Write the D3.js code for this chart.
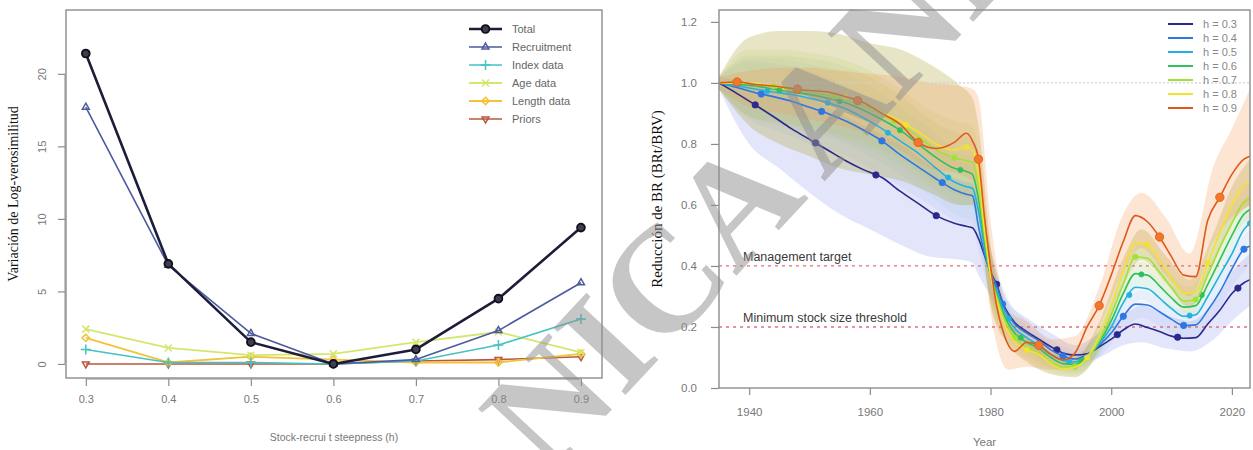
<!DOCTYPE html>
<html>
<head>
<meta charset="utf-8">
<script src="https://cdn.jsdelivr.net/npm/d3@7/dist/d3.min.js"></script>
<style>
  body { margin: 0; background: #fff; }
  svg { display: block; }
</style>
</head>
<body>
<svg id="chart" width="1253" height="450"></svg>
<script>
// ---------- Left panel: likelihood profile over steepness ----------
const steepness   = [0.3, 0.4, 0.5, 0.6, 0.7, 0.8, 0.9];
const totalLL     = [21.4, 6.9, 1.5, 0.0, 1.0, 4.5, 9.4];
const recruitLL   = [17.7, 6.8, 2.1, 0.0, 0.3, 2.3, 5.6];
const indexLL     = [1.0, 0.1, 0.1, 0.0, 0.2, 1.3, 3.1];
const ageLL       = [2.4, 1.1, 0.6, 0.7, 1.5, 2.2, 0.8];
const lengthLL    = [1.8, 0.1, 0.5, 0.3, 0.1, 0.1, 0.7];
const priorsLL    = [0.0, 0.0, 0.0, 0.0, 0.2, 0.3, 0.5];
const componentNames = ["Total", "Recruitment", "Index data", "Age data", "Length data", "Priors"];
const leftYTicks  = [0, 5, 10, 15, 20];
const leftXTicks  = [0.3, 0.4, 0.5, 0.6, 0.7, 0.8, 0.9];

// ---------- Right panel: relative spawning biomass by steepness ----------
const years = [1935, 1938, 1941, 1944, 1947, 1950, 1953, 1956, 1959, 1962, 1965, 1968, 1971, 1974,
               1976, 1977, 1978, 1979, 1980, 1981, 1982, 1984, 1986, 1988, 1990, 1992, 1994, 1996,
               1998, 2000, 2002, 2004, 2006, 2008, 2010, 2012, 2014, 2016, 2018, 2020, 2022, 2023];
const h03 = [1.00, 0.965, 0.928, 0.89, 0.85, 0.815, 0.78, 0.745, 0.715, 0.69, 0.645, 0.605, 0.565, 0.54,
             0.53, 0.525, 0.49, 0.435, 0.38, 0.34, 0.28, 0.215, 0.185, 0.16, 0.135, 0.115, 0.108, 0.112,
             0.135, 0.16, 0.19, 0.21, 0.198, 0.185, 0.17, 0.163, 0.165, 0.21, 0.255, 0.31, 0.345, 0.355];
const h04 = [1.00, 0.985, 0.968, 0.955, 0.94, 0.92, 0.90, 0.875, 0.845, 0.81, 0.765, 0.725, 0.685, 0.65,
             0.635, 0.63, 0.53, 0.44, 0.38, 0.335, 0.275, 0.21, 0.18, 0.155, 0.125, 0.105, 0.095, 0.11,
             0.14, 0.18, 0.235, 0.275, 0.272, 0.25, 0.225, 0.205, 0.207, 0.255, 0.315, 0.39, 0.455, 0.465];
const h05 = [1.00, 0.99, 0.98, 0.97, 0.962, 0.95, 0.935, 0.915, 0.885, 0.85, 0.81, 0.77, 0.72, 0.675,
             0.66, 0.655, 0.58, 0.46, 0.37, 0.32, 0.26, 0.195, 0.165, 0.14, 0.11, 0.09, 0.085, 0.105,
             0.145, 0.20, 0.28, 0.33, 0.325, 0.295, 0.26, 0.235, 0.24, 0.30, 0.37, 0.44, 0.52, 0.54];
const h06 = [1.00, 0.995, 0.99, 0.98, 0.97, 0.962, 0.95, 0.935, 0.91, 0.88, 0.845, 0.80, 0.755, 0.72,
             0.71, 0.70, 0.62, 0.48, 0.37, 0.31, 0.25, 0.18, 0.15, 0.13, 0.10, 0.08, 0.078, 0.10,
             0.15, 0.22, 0.31, 0.375, 0.37, 0.335, 0.295, 0.265, 0.27, 0.34, 0.42, 0.50, 0.57, 0.585];
const h07 = [1.00, 1.00, 0.995, 0.99, 0.978, 0.97, 0.96, 0.945, 0.925, 0.895, 0.865, 0.825, 0.78, 0.755,
             0.745, 0.74, 0.66, 0.50, 0.37, 0.30, 0.24, 0.165, 0.135, 0.115, 0.085, 0.068, 0.07, 0.095,
             0.155, 0.24, 0.34, 0.43, 0.425, 0.38, 0.33, 0.285, 0.29, 0.37, 0.46, 0.54, 0.61, 0.62];
const h08 = [1.00, 1.00, 0.998, 0.99, 0.982, 0.975, 0.968, 0.955, 0.935, 0.905, 0.875, 0.84, 0.80, 0.78,
             0.79, 0.78, 0.70, 0.52, 0.37, 0.29, 0.225, 0.15, 0.125, 0.11, 0.08, 0.062, 0.068, 0.10,
             0.17, 0.27, 0.38, 0.475, 0.47, 0.42, 0.36, 0.31, 0.315, 0.41, 0.51, 0.60, 0.665, 0.675];
const h09 = [1.00, 1.003, 0.995, 0.99, 0.982, 0.975, 0.97, 0.955, 0.935, 0.90, 0.865, 0.805, 0.785, 0.805,
             0.835, 0.81, 0.75, 0.56, 0.40, 0.27, 0.19, 0.12, 0.15, 0.14, 0.11, 0.092, 0.115, 0.20,
             0.27, 0.37, 0.48, 0.565, 0.545, 0.495, 0.43, 0.37, 0.365, 0.55, 0.625, 0.70, 0.75, 0.76];

// Confidence envelopes, read on a coarser grid of years
const bandYears = [1935, 1940, 1945, 1950, 1955, 1960, 1965, 1970, 1975, 1977, 1978, 1980,
                   1983, 1986, 1990, 1994, 1998, 2002, 2005, 2009, 2013, 2017, 2020, 2023];
const h03Lo = [0.98, 0.80, 0.72, 0.64, 0.57, 0.52, 0.47, 0.43, 0.42, 0.41, 0.37, 0.30, 0.20, 0.14, 0.10, 0.08, 0.10, 0.14, 0.15, 0.13, 0.12, 0.16, 0.22, 0.27];
const h03Hi = [1.02, 1.00, 0.98, 0.95, 0.90, 0.85, 0.80, 0.73, 0.68, 0.67, 0.62, 0.45, 0.28, 0.23, 0.18, 0.14, 0.18, 0.24, 0.27, 0.24, 0.22, 0.28, 0.38, 0.44];
const h04Lo = [0.98, 0.88, 0.84, 0.80, 0.77, 0.72, 0.66, 0.60, 0.54, 0.53, 0.45, 0.30, 0.19, 0.14, 0.09, 0.065, 0.10, 0.19, 0.23, 0.19, 0.16, 0.23, 0.33, 0.41];
const h04Hi = [1.02, 1.07, 1.06, 1.04, 1.00, 0.95, 0.87, 0.80, 0.74, 0.73, 0.62, 0.46, 0.29, 0.22, 0.16, 0.125, 0.18, 0.28, 0.32, 0.28, 0.25, 0.33, 0.45, 0.52];
const h05Lo = [0.98, 0.89, 0.86, 0.84, 0.81, 0.76, 0.70, 0.63, 0.56, 0.55, 0.48, 0.29, 0.18, 0.125, 0.075, 0.055, 0.105, 0.24, 0.29, 0.235, 0.195, 0.28, 0.39, 0.48];
const h05Hi = [1.02, 1.08, 1.08, 1.06, 1.04, 0.99, 0.92, 0.85, 0.77, 0.76, 0.68, 0.45, 0.27, 0.205, 0.145, 0.115, 0.185, 0.32, 0.37, 0.315, 0.28, 0.38, 0.49, 0.60];
const h06Lo = [0.98, 0.89, 0.87, 0.85, 0.82, 0.78, 0.73, 0.66, 0.60, 0.59, 0.51, 0.29, 0.165, 0.11, 0.065, 0.048, 0.11, 0.27, 0.33, 0.27, 0.225, 0.33, 0.45, 0.53];
const h06Hi = [1.02, 1.09, 1.09, 1.08, 1.06, 1.02, 0.96, 0.88, 0.83, 0.81, 0.73, 0.45, 0.255, 0.19, 0.135, 0.108, 0.19, 0.35, 0.415, 0.35, 0.31, 0.43, 0.55, 0.64];
const h07Lo = [0.98, 0.89, 0.87, 0.85, 0.83, 0.80, 0.75, 0.68, 0.63, 0.62, 0.54, 0.28, 0.15, 0.095, 0.05, 0.04, 0.115, 0.30, 0.385, 0.31, 0.245, 0.37, 0.49, 0.56];
const h07Hi = [1.02, 1.11, 1.11, 1.10, 1.08, 1.04, 0.98, 0.91, 0.87, 0.86, 0.78, 0.46, 0.25, 0.175, 0.12, 0.10, 0.195, 0.38, 0.475, 0.39, 0.33, 0.47, 0.59, 0.68];
const h08Lo = [0.98, 0.86, 0.80, 0.76, 0.72, 0.70, 0.68, 0.64, 0.60, 0.60, 0.56, 0.27, 0.14, 0.085, 0.045, 0.035, 0.125, 0.335, 0.42, 0.345, 0.265, 0.41, 0.54, 0.60];
const h08Hi = [1.02, 1.15, 1.17, 1.17, 1.16, 1.13, 1.11, 1.06, 0.99, 0.95, 0.86, 0.47, 0.24, 0.165, 0.115, 0.10, 0.215, 0.425, 0.52, 0.435, 0.355, 0.51, 0.66, 0.75];
const h09Lo = [0.98, 0.92, 0.90, 0.88, 0.86, 0.83, 0.78, 0.72, 0.70, 0.68, 0.62, 0.25, 0.06, 0.07, 0.06, 0.07, 0.20, 0.38, 0.46, 0.37, 0.30, 0.48, 0.56, 0.60];
const h09Hi = [1.02, 1.04, 1.05, 1.05, 1.04, 1.03, 1.02, 1.00, 0.99, 0.98, 0.95, 0.55, 0.25, 0.22, 0.16, 0.17, 0.33, 0.57, 0.64, 0.56, 0.44, 0.73, 0.85, 0.98];

const steepLabels  = ["h = 0.3", "h = 0.4", "h = 0.5", "h = 0.6", "h = 0.7", "h = 0.8", "h = 0.9"];
const firstMarker  = [1941, 1942, 1943, 1945, 1944, 1946, 1938];
const rightYTicks  = [0.0, 0.2, 0.4, 0.6, 0.8, 1.0, 1.2];
const rightXTicks  = [1940, 1960, 1980, 2000, 2020];
const refLevels    = [0.4, 0.2];
const refNames     = ["Management target", "Minimum stock size threshold"];

const svg = d3.select("#chart");
const SANS = "'Liberation Sans', Arial, sans-serif";
const SERIF = "'Liberation Serif', 'Times New Roman', serif";
const AXIS_GREY = "#8c8c8c";
const TEXT_GREY = "#777";

// =============== Left panel ===============
(function leftPanel() {
  const box = { l: 66, r: 602, t: 10, b: 378 };
  const x = d3.scaleLinear().domain([0.276, 0.9255]).range([box.l, box.r]);
  const y = d3.scaleLinear().domain([-0.97, 24.4]).range([box.b, box.t]);
  const g = svg.append("g");

  const comps = [
    { name: componentNames[0], v: totalLL,   color: "#1d1d3a", w: 2.6, sym: "circle" },
    { name: componentNames[1], v: recruitLL, color: "#4d5b9e", w: 1.6, sym: "tri" },
    { name: componentNames[2], v: indexLL,   color: "#45c2c4", w: 1.6, sym: "plus" },
    { name: componentNames[3], v: ageLL,     color: "#d6e66c", w: 1.8, sym: "times" },
    { name: componentNames[4], v: lengthLL,  color: "#f2c23a", w: 1.8, sym: "diamond" },
    { name: componentNames[5], v: priorsLL,  color: "#b9583c", w: 1.6, sym: "down" }
  ];
  const symType = {
    circle: d3.symbolCircle, tri: d3.symbolTriangle2, plus: d3.symbolPlus,
    times: d3.symbolTimes, diamond: d3.symbolDiamond2, down: d3.symbolTriangle2
  };
  function drawSymbol(sel, c, cx, cy) {
    const size = c.sym === "circle" ? 48 : 34;
    return sel.append("path")
      .attr("d", d3.symbol().type(symType[c.sym]).size(size)())
      .attr("transform", `translate(${cx},${cy})` + (c.sym === "down" ? " rotate(180)" : ""))
      .attr("stroke", c.sym === "circle" ? "#111" : c.color)
      .attr("stroke-width", c.sym === "circle" ? 1.8 : 1.5)
      .attr("fill", c.sym === "circle" ? "#3d3d5a" : "none");
  }

  // plotted from last to first so Total sits on top
  const line = d3.line().x((d, i) => x(steepness[i])).y(d => y(d));
  comps.slice().reverse().forEach(c => {
    g.append("path").attr("d", line(c.v)).attr("fill", "none")
      .attr("stroke", c.color).attr("stroke-width", c.w).attr("stroke-linejoin", "round");
    c.v.forEach((v, i) => drawSymbol(g, c, x(steepness[i]), y(v)));
  });

  // frame
  g.append("rect").attr("x", box.l).attr("y", box.t).attr("width", box.r - box.l).attr("height", box.b - box.t)
    .attr("fill", "none").attr("stroke", AXIS_GREY).attr("stroke-width", 1.4);

  // axes (ticks outside)
  const yAxis = g.append("g").attr("transform", `translate(${box.l - 1},0)`)
    .call(d3.axisLeft(y).tickValues(leftYTicks).tickSize(7).tickFormat(d3.format("d")));
  yAxis.select(".domain").attr("stroke", AXIS_GREY).attr("d", `M-0,${y(0)}V${y(20)}`);
  yAxis.selectAll(".tick line").attr("stroke", AXIS_GREY).attr("stroke-width", 1.2);
  yAxis.selectAll(".tick text").attr("fill", TEXT_GREY).attr("font-family", SANS).attr("font-size", 11)
    .attr("text-anchor", "middle").attr("x", null).attr("dy", null)
    .attr("transform", "translate(-19,0) rotate(-90)");

  const xAxis = g.append("g").attr("transform", `translate(0,${box.b + 1})`)
    .call(d3.axisBottom(x).tickValues(leftXTicks).tickSize(7).tickFormat(d3.format(".1f")));
  xAxis.select(".domain").attr("stroke", AXIS_GREY).attr("d", `M${x(0.3)},0H${x(0.9)}`);
  xAxis.selectAll(".tick line").attr("stroke", AXIS_GREY).attr("stroke-width", 1.2);
  xAxis.selectAll(".tick text").attr("fill", TEXT_GREY).attr("font-family", SANS).attr("font-size", 11)
    .attr("y", 24).attr("dy", null);

  // axis titles
  g.append("text").attr("x", (box.l + box.r) / 2).attr("y", 441).attr("text-anchor", "middle")
    .attr("font-family", SANS).attr("font-size", 10.5).attr("fill", TEXT_GREY)
    .text("Stock-recrui t steepness (h)");
  g.append("text").attr("transform", `translate(18,${(box.t + box.b) / 2}) rotate(-90)`)
    .attr("text-anchor", "middle").attr("font-family", SERIF).attr("font-size", 14).attr("fill", "#111")
    .text("Variación de Log-verosimilitud");

  // legend
  const lg = g.append("g");
  comps.forEach((c, i) => {
    const cy = 29 + i * 18;
    lg.append("line").attr("x1", 469).attr("x2", 502).attr("y1", cy).attr("y2", cy)
      .attr("stroke", c.color).attr("stroke-width", c.w);
    drawSymbol(lg, c, 485.5, cy);
    lg.append("text").attr("x", 512).attr("y", cy + 4).attr("font-family", SANS).attr("font-size", 11)
      .attr("fill", "#666").text(c.name);
  });
})();

// =============== Right panel ===============
(function rightPanel() {
  const box = { l: 719, r: 1250, t: 10, b: 388 };
  const x = d3.scaleLinear().domain([1935, 2023]).range([box.l, box.r]);
  const y = d3.scaleLinear().domain([0, 1.239]).range([box.b, box.t]);
  const g = svg.append("g");

  const series = [
    { label: steepLabels[0], v: h03, lo: h03Lo, hi: h03Hi, line: "#2a2a8c", band: "#8e96ec", op: 0.25, r: 3.2 },
    { label: steepLabels[1], v: h04, lo: h04Lo, hi: h04Hi, line: "#2f76e0", band: "#7a9ae8", op: 0.09, r: 3.2 },
    { label: steepLabels[2], v: h05, lo: h05Lo, hi: h05Hi, line: "#22b2e2", band: "#70c0e0", op: 0.09, r: 2.6 },
    { label: steepLabels[3], v: h06, lo: h06Lo, hi: h06Hi, line: "#2cc25c", band: "#90c880", op: 0.11, r: 2.6 },
    { label: steepLabels[4], v: h07, lo: h07Lo, hi: h07Hi, line: "#a2e236", band: "#b8c858", op: 0.13, r: 2.6 },
    { label: steepLabels[5], v: h08, lo: h08Lo, hi: h08Hi, line: "#f2e230", band: "#aaa030", op: 0.28, r: 2.6 },
    { label: steepLabels[6], v: h09, lo: h09Lo, hi: h09Hi, line: "#e0581c", band: "#f29a50", op: 0.26, r: 4.2 }
  ];

  svg.append("clipPath").attr("id", "rclip").append("rect")
    .attr("x", box.l).attr("y", box.t).attr("width", box.r - box.l).attr("height", box.b - box.t);
  const plot = g.append("g").attr("clip-path", "url(#rclip)");

  // confidence envelopes
  const area = d3.area().curve(d3.curveMonotoneX)
    .x((d, i) => x(bandYears[i])).y0(d => y(d[0])).y1(d => y(d[1]));
  series.forEach(s => {
    plot.append("path").attr("d", area(s.lo.map((lo, i) => [lo, s.hi[i]])))
      .attr("fill", s.band).attr("fill-opacity", s.op).attr("stroke", "none");
  });

  // reference levels
  plot.append("line").attr("x1", box.l).attr("x2", box.r).attr("y1", y(1)).attr("y2", y(1))
    .attr("stroke", "#cfcfcf").attr("stroke-width", 1.2).attr("stroke-dasharray", "2,2");
  refLevels.forEach((lvl, i) => {
    plot.append("line").attr("x1", box.l).attr("x2", box.r).attr("y1", y(lvl)).attr("y2", y(lvl))
      .attr("stroke", "#e0707e").attr("stroke-width", 1.3).attr("stroke-dasharray", "3,4");
    plot.append("text").attr("x", 743).attr("y", y(lvl) - 5).attr("font-family", SANS)
      .attr("font-size", 12.5).attr("fill", "#3a3a3a").text(refNames[i]);
  });

  // trajectories
  const line = d3.line().curve(d3.curveMonotoneX).x((d, i) => x(years[i])).y(d => y(d));
  const valueAt = (vals, yr) => {
    const j = Math.min(d3.bisectRight(years, yr), years.length - 1);
    const i = Math.max(j - 1, 0);
    const t = years[j] === years[i] ? 0 : (yr - years[i]) / (years[j] - years[i]);
    return vals[i] + (vals[j] - vals[i]) * t;
  };
  series.forEach((s, k) => {
    plot.append("path").attr("d", line(s.v)).attr("fill", "none")
      .attr("stroke", s.line).attr("stroke-width", 1.6).attr("stroke-linejoin", "round");
    for (let yr = firstMarker[k]; yr <= 2023; yr += 10) {
      plot.append("circle").attr("cx", x(yr)).attr("cy", y(valueAt(s.v, yr))).attr("r", s.r)
        .attr("fill", k === 6 ? "#f07828" : s.line).attr("stroke", s.line).attr("stroke-width", 0.8);
    }
  });

  // frame and axes
  g.append("rect").attr("x", box.l).attr("y", box.t).attr("width", box.r - box.l).attr("height", box.b - box.t)
    .attr("fill", "none").attr("stroke", AXIS_GREY).attr("stroke-width", 1.4);

  const yAxis = g.append("g").attr("transform", `translate(${box.l},0)`)
    .call(d3.axisLeft(y).tickValues(rightYTicks).tickSize(8).tickFormat(d3.format(".1f")));
  yAxis.select(".domain").remove();
  yAxis.selectAll(".tick line").attr("stroke", AXIS_GREY).attr("stroke-width", 1.2);
  yAxis.selectAll(".tick text").attr("fill", TEXT_GREY).attr("font-family", SANS).attr("font-size", 11.5)
    .attr("x", -22);

  const xAxis = g.append("g").attr("transform", `translate(0,${box.b})`)
    .call(d3.axisBottom(x).tickValues(rightXTicks).tickSize(7).tickFormat(d3.format("d")));
  xAxis.select(".domain").remove();
  xAxis.selectAll(".tick line").attr("stroke", AXIS_GREY).attr("stroke-width", 1.2);
  xAxis.selectAll(".tick text").attr("fill", TEXT_GREY).attr("font-family", SANS).attr("font-size", 11.5)
    .attr("y", 20).attr("dy", "0.71em");

  g.append("text").attr("x", (box.l + box.r) / 2).attr("y", 446).attr("text-anchor", "middle")
    .attr("font-family", SANS).attr("font-size", 11.5).attr("fill", TEXT_GREY).text("Year");
  g.append("text").attr("transform", `translate(662,${(box.t + box.b) / 2}) rotate(-90)`)
    .attr("text-anchor", "middle").attr("font-family", SERIF).attr("font-size", 15).attr("fill", "#111")
    .text("Reducción de BR (BRt/BRV)");

  // legend
  series.forEach((s, i) => {
    const cy = 24 + i * 14;
    g.append("line").attr("x1", 1168).attr("x2", 1193).attr("y1", cy).attr("y2", cy)
      .attr("stroke", s.line).attr("stroke-width", 2);
    g.append("text").attr("x", 1203).attr("y", cy + 4).attr("font-family", SANS).attr("font-size", 11)
      .attr("fill", "#888").text(s.label);
  });
})();

// diagonal stamp over the page
svg.append("text")
  .attr("transform", "translate(548,478) rotate(-47)")
  .attr("font-family", SERIF).attr("font-weight", "bold").attr("font-size", 150)
  .attr("fill", "#8e8e8e").attr("fill-opacity", 0.5)
  .text("NICA AND");
</script>
</body>
</html>
